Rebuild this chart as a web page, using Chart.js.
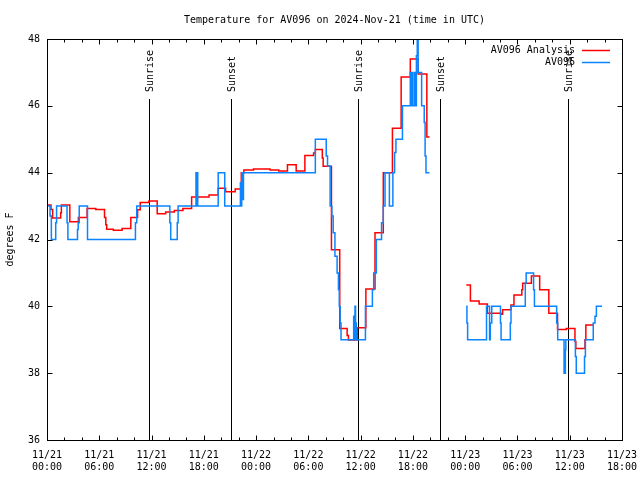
<!DOCTYPE html>
<html>
<head>
<meta charset="utf-8">
<script src="https://cdn.jsdelivr.net/npm/chart.js@4.4.1/dist/chart.umd.min.js"></script>
<style>
  html, body { margin: 0; padding: 0; background: #fff; }
</style>
</head>
<body>
<canvas id="c" width="640" height="480"></canvas>
<script>
/* AV096 temperature — analysis vs station, hours since 2024-11-21 00:00 UTC */

const FONT = '"DejaVu Sans Mono", "Liberation Mono", monospace';

// x tick labels, every 6 hours
const tickDates = ['11/21','11/21','11/21','11/21','11/22','11/22','11/22','11/22','11/23','11/23','11/23','11/23'];
const tickTimes = ['00:00','06:00','12:00','18:00','00:00','06:00','12:00','18:00','00:00','06:00','12:00','18:00'];

// sunrise / sunset (hours)
const sunNames = ['Sunrise','Sunset','Sunrise','Sunset','Sunrise'];
const sunTimes = [11.75, 21.15, 35.75, 45.15, 59.85];

// AV096 Analysis (red) — each value holds from its time until the next time
const redTimes = [0,0.46,0.65,1.57,1.65,2.62,3.6,4.6,5.6,6.6,6.75,6.85,7.62,8.62,9.62,10.4,10.7,11.7,
  12.65,13.62,14.62,15.6,16.6,18.6,19.65,20.5,21.6,22.3,22.6,23.7,25.6,26.6,27.6,28.6,29.6,30.6,30.8,
  31.6,31.7,32.65,33.6,34.45,34.6,35.6,36.6,37.65,38.6,39.65,40.65,41.7,42.6,43.6,43.9,
  46,
  48.13,48.6,49.6,50.55,52.1,52.3,53.25,53.6,54.5,54.6,55.6,56.55,57.6,58.6,59.6,60.6,60.7,61.75,61.85,62.75];
const redValues = [43.03,42.9,42.64,42.8,43.03,42.53,42.66,42.93,42.9,42.66,42.44,42.31,42.28,42.33,42.66,42.89,43.11,43.15,
  42.77,42.82,42.87,42.93,43.27,43.33,43.53,43.43,43.51,44.0,44.08,44.11,44.08,44.05,44.24,44.05,44.51,44.59,44.69,
  44.44,44.19,41.69,39.34,39.13,38.99,39.36,40.52,42.2,44.0,45.33,46.86,47.4,46.95,45.07,45.07,
  null,
  40.64,40.16,40.07,39.79,39.76,39.9,40.04,40.34,40.5,40.69,40.91,40.5,39.79,39.31,39.34,38.95,38.74,39.0,39.44,39.44];

// AV096 station (blue)
const blueTimes = [0,0.35,0.5,1.0,1.1,2.3,2.4,3.5,3.58,3.7,4.65,10.15,10.3,14.1,14.2,14.95,15.05,
  17.1,17.16,17.25,17.3,19.65,20.4,22.2,22.25,22.35,22.42,22.55,30.8,32.05,32.2,32.5,32.7,32.85,33.05,
  33.3,33.45,33.55,33.65,33.75,35.2,35.25,35.35,35.42,35.5,36.55,37.35,37.5,37.8,38.4,38.6,38.8,39.3,
  39.7,39.9,40.05,40.8,41.7,41.8,41.9,42.0,42.2,42.3,42.4,42.5,42.6,43.0,43.3,43.4,43.5,43.9,
  46,
  48.13,48.2,48.28,50.45,50.8,50.88,51.05,52.05,52.12,53.18,53.26,54.9,55.0,55.85,55.95,58.5,58.62,
  59.35,59.5,59.55,60.65,60.75,61.7,61.8,62.7,62.9,63.06,63.71];
const blueValues = [43,42.7,42,42.5,43,42.5,42,42.3,42.5,43,42,42.5,43,42.5,42,42.5,43,
  44,43,44,43,44,43,43.7,43,44,43.2,44,45,44.5,44.2,43,42.7,42.2,41.5,
  41,40.5,40,39.5,39,39.7,39,40,39.5,39,40,40.5,41,42,42.5,43,44,43,
  44,44.6,45,46,47,46,47,46,47,46,47.5,48,47,46,45.5,44.5,44,44,
  null,
  40,39.5,39,40,39,39.5,40,39.5,39,39.5,40,40.7,41,40.5,40,39.5,39,
  38,38.7,39,38.5,38,38.5,39,39.5,39.7,40,40];

function pts(ts, vs) {
  return ts.map((t, i) => ({ x: t, y: vs[i] }));
}

// frame, inward ticks, sun markers, legend and titles
const decor = {
  id: 'decor',
  beforeDatasetsDraw(chart) {
    const { ctx, chartArea: a, scales: { x } } = chart;
    ctx.save();
    ctx.strokeStyle = '#000';
    ctx.fillStyle = '#000';
    ctx.lineWidth = 1;
    ctx.font = '10px ' + FONT;
    sunNames.forEach((name, i) => {
      const px = Math.round(x.getPixelForValue(sunTimes[i])) + 0.5;
      ctx.beginPath();
      ctx.moveTo(px, a.bottom);
      ctx.lineTo(px, a.top + 60);
      ctx.stroke();
      ctx.save();
      ctx.translate(px + 1, a.top + 53);
      ctx.rotate(-Math.PI / 2);
      ctx.textAlign = 'left';
      ctx.textBaseline = 'middle';
      ctx.fillText(name, 0, 0);
      ctx.restore();
    });
    ctx.restore();
  },
  afterDraw(chart) {
    const { ctx, chartArea: a, scales: { x, y } } = chart;
    const L = Math.round(a.left) + 0.5, R = Math.round(a.right) + 0.5;
    const T = Math.round(a.top) + 0.5, B = Math.round(a.bottom) + 0.5;
    ctx.save();
    ctx.strokeStyle = '#000';
    ctx.lineWidth = 1;
    ctx.strokeRect(L, T, R - L, B - T);

    ctx.beginPath();
    x.ticks.forEach(t => {
      const px = Math.round(x.getPixelForValue(t.value)) + 0.5;
      const len = t.value % 6 === 0 ? 5 : 3;
      ctx.moveTo(px, B); ctx.lineTo(px, B - len);
      ctx.moveTo(px, T); ctx.lineTo(px, T + len);
    });
    y.ticks.forEach(t => {
      const py = Math.round(y.getPixelForValue(t.value)) + 0.5;
      ctx.moveTo(L, py); ctx.lineTo(L + 5, py);
      ctx.moveTo(R, py); ctx.lineTo(R - 5, py);
    });
    ctx.stroke();

    ctx.fillStyle = '#000';
    ctx.font = '10px ' + FONT;
    ctx.textBaseline = 'middle';

    // title
    ctx.textAlign = 'center';
    ctx.fillText('Temperature for AV096 on 2024-Nov-21 (time in UTC)', (a.left + a.right) / 2, 20);

    // y axis title
    ctx.save();
    ctx.translate(10, (a.top + a.bottom) / 2);
    ctx.rotate(-Math.PI / 2);
    ctx.fillText('degrees F', 0, 0);
    ctx.restore();

    // legend
    chart.data.datasets.forEach((ds, i) => {
      const ly = Math.round(a.top + 10.5 + i * 12.6) + 0.5;
      ctx.textAlign = 'right';
      ctx.fillStyle = '#000';
      ctx.fillText(ds.label, a.right - 47, ly);
      ctx.strokeStyle = ds.borderColor;
      ctx.lineWidth = 1.5;
      ctx.beginPath();
      ctx.moveTo(a.right - 40, ly);
      ctx.lineTo(a.right - 12, ly);
      ctx.stroke();
    });
    ctx.restore();
  }
};

new Chart(document.getElementById('c'), {
  type: 'line',
  data: {
    datasets: [
      { label: 'AV096 Analysis', data: pts(redTimes, redValues), borderColor: '#ff0000',
        borderWidth: 1.5, stepped: 'before', pointRadius: 0, spanGaps: false, order: 2 },
      { label: 'AV096', data: pts(blueTimes, blueValues), borderColor: '#0a84ff',
        borderWidth: 1.5, stepped: 'before', pointRadius: 0, spanGaps: false, order: 1 },
    ],
  },
  options: {
    responsive: false, animation: false, devicePixelRatio: 1,
    layout: { padding: { top: 39, right: 18, left: 0, bottom: 0 } },
    plugins: { legend: { display: false }, title: { display: false }, tooltip: { enabled: false } },
    scales: {
      x: {
        type: 'linear', min: 0, max: 66,
        grid: { display: false, drawTicks: false }, border: { display: false },
        afterFit: s => { s.height = 40; s.paddingLeft = 0; s.paddingRight = 0; },
        ticks: {
          stepSize: 2, autoSkip: false, maxRotation: 0, minRotation: 0, padding: 9,
          color: '#000', font: { family: FONT, size: 10 },
          callback: v => v % 6 ? '' : [tickDates[v / 6], tickTimes[v / 6]],
        },
      },
      y: {
        min: 36, max: 48,
        grid: { display: false, drawTicks: false }, border: { display: false },
        afterFit: s => { s.width = 47; s.paddingTop = 0; s.paddingBottom = 0; },
        ticks: { stepSize: 2, padding: 7, color: '#000', font: { family: FONT, size: 10 } },
      },
    },
  },
  plugins: [decor],
});
</script>
</body>
</html>
